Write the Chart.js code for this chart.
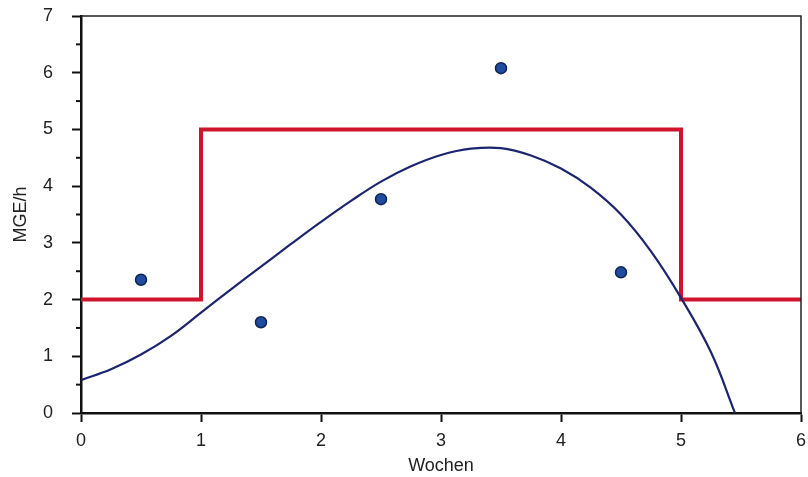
<!DOCTYPE html>
<html>
<head>
<meta charset="utf-8">
<script src="https://cdn.jsdelivr.net/npm/chart.js@4.4.1/dist/chart.umd.min.js"></script>
<style>
  html, body { margin: 0; padding: 0; background: #fff; }
  #wrap { width: 808px; height: 477px; }
</style>
</head>
<body>
<div id="wrap"><canvas id="chart" width="808" height="477"></canvas></div>
<script>
// Messwerte (Punkte)
const pointWeeks = [0.5, 1.5, 2.5, 3.5, 4.5];
const pointValues = [2.35, 1.6, 3.77, 6.08, 2.48];

// Stufenlinie (rot)
const stepWeeks = [0, 1, 5, 6];
const stepValues = [2, 5, 2, 2];

// Kurve (blau)
const curveWeeks = [0, 0.25, 0.5, 0.75, 1, 1.25, 1.5, 1.75, 2, 2.25, 2.5, 2.75, 3, 3.25, 3.5, 3.75, 4, 4.25, 4.5, 4.75, 5, 5.25, 5.45];
const curveValues = [0.58, 0.77, 1.03, 1.36, 1.77, 2.18, 2.58, 2.98, 3.37, 3.74, 4.08, 4.35, 4.55, 4.66, 4.67, 4.54, 4.31, 3.97, 3.5, 2.85, 2.03, 1.07, 0];

const xTicks = [0, 1, 2, 3, 4, 5, 6];
const yTicks = [0, 1, 2, 3, 4, 5, 6, 7];
const yMinorTicks = [0.5, 1.5, 2.5, 3.5, 4.5, 5.5, 6.5];

const toXY = (xs, ys) => xs.map((x, i) => ({ x: x, y: ys[i] }));

// Rahmen oben/rechts + kleine Teilstriche an der y-Achse
const framePlugin = {
  id: "frame",
  afterDraw(chart) {
    const { ctx, chartArea: a, scales } = chart;
    ctx.save();
    ctx.strokeStyle = "#222";
    ctx.lineWidth = 1.5;
    ctx.beginPath();
    ctx.moveTo(a.left, a.top);
    ctx.lineTo(a.right, a.top);
    ctx.lineTo(a.right, a.bottom);
    ctx.stroke();
    ctx.lineWidth = 2;
    ctx.strokeStyle = "#111";
    yMinorTicks.forEach(v => {
      const py = scales.y.getPixelForValue(v);
      ctx.beginPath();
      ctx.moveTo(a.left - 5, py);
      ctx.lineTo(a.left, py);
      ctx.stroke();
    });
    ctx.restore();
  }
};

const font = { family: "'Liberation Sans', Arial, sans-serif", size: 18 };

new Chart(document.getElementById("chart"), {
  type: "scatter",
  data: {
    datasets: [
      {
        type: "line",
        data: toXY(stepWeeks, stepValues),
        stepped: "before",
        borderColor: "#d0142c",
        borderWidth: 4,
        pointRadius: 0,
        fill: false,
        order: 3
      },
      {
        type: "line",
        data: toXY(curveWeeks, curveValues),
        borderColor: "#1b2570",
        borderWidth: 2.2,
        pointRadius: 0,
        tension: 0.4,
        fill: false,
        order: 2
      },
      {
        data: toXY(pointWeeks, pointValues),
        backgroundColor: "#1f4c9e",
        borderColor: "#0e2456",
        borderWidth: 1.5,
        pointRadius: 5.5,
        order: 1
      }
    ]
  },
  options: {
    responsive: false,
    animation: false,
    layout: { padding: { top: 16, right: 6, left: 0, bottom: 0 } },
    plugins: {
      legend: { display: false },
      tooltip: { enabled: false }
    },
    scales: {
      x: {
        type: "linear",
        min: 0,
        max: 6,
        afterFit: s => { s.height = 64; s.paddingLeft = 0; s.paddingRight = 0; },
        afterBuildTicks: s => { s.ticks = xTicks.map(v => ({ value: v })); },
        ticks: { color: "#222", font: font, padding: 8, maxRotation: 0 },
        grid: { drawOnChartArea: false, tickLength: 9, tickWidth: 2, tickColor: "#111" },
        border: { display: true, color: "#111", width: 2.5 },
        title: { display: true, text: "Wochen", color: "#222", font: font, padding: { top: 0, bottom: 0 } }
      },
      y: {
        min: 0,
        max: 7,
        afterFit: s => { s.width = 81; s.paddingTop = 0; s.paddingBottom = 0; },
        afterBuildTicks: s => { s.ticks = yTicks.map(v => ({ value: v })); },
        ticks: { color: "#222", font: font, padding: 19 },
        grid: { drawOnChartArea: false, tickLength: 9, tickWidth: 2, tickColor: "#111" },
        border: { display: true, color: "#111", width: 2.5 },
        title: { display: true, text: "MGE/h", color: "#222", font: font, padding: { top: 10, bottom: 0 } }
      }
    }
  },
  plugins: [framePlugin]
});
</script>
</body>
</html>
